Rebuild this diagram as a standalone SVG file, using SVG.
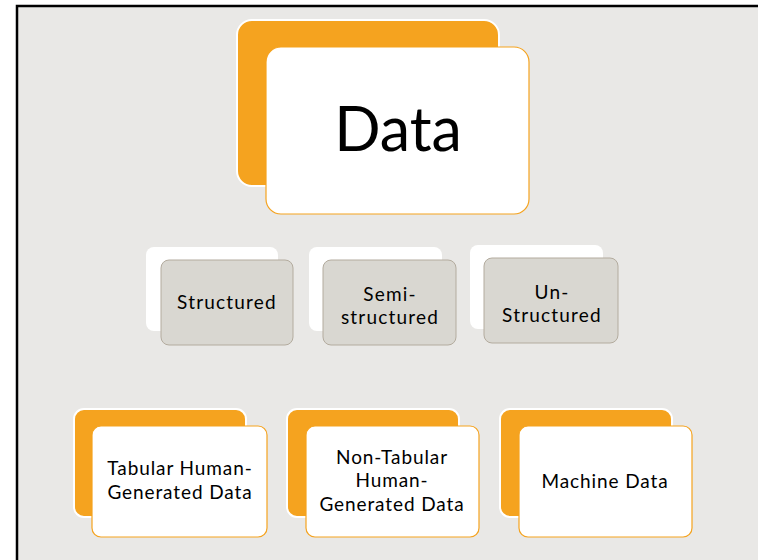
<svg xmlns="http://www.w3.org/2000/svg" width="758" height="560" viewBox="0 0 758 560">
<style>
.t{font-family:Lato,"Open Sans","Liberation Sans",sans-serif;fill:#000;text-anchor:middle}
.m{font-size:19px;letter-spacing:1.2px}
.b{font-size:19px;letter-spacing:0.9px}
.ob{fill:#f5a31f;stroke:#ffffff;stroke-width:2}
.wf{fill:#ffffff;stroke:#f5a31f;stroke-width:1.2}
.wb{fill:#ffffff;stroke:none}
.gf{fill:#d9d7d1;stroke:#b3ab9e;stroke-width:1}
</style>
<rect x="0" y="0" width="758" height="560" fill="#ffffff"/>
<rect x="17" y="6" width="800" height="600" fill="#e9e8e6" stroke="#000" stroke-width="2.5"/>
<g id="connectors"></g>
<g id="node-data">
<rect class="ob" x="237" y="20" width="262" height="166" rx="15"/>
<rect class="wf" x="266" y="47" width="263" height="167" rx="15"/>
<text class="t" x="398" y="151" font-size="61">Data</text>
</g>
<g id="node-structured">
<rect class="wb" x="146" y="247" width="132" height="84" rx="8"/>
<rect class="gf" x="161" y="260" width="132" height="85" rx="8"/>
<text class="t m" x="227" y="309">Structured</text>
</g>
<g id="node-semi">
<rect class="wb" x="309" y="247" width="133" height="84" rx="8"/>
<rect class="gf" x="323" y="260" width="133" height="85" rx="8"/>
<text class="t m" x="390" y="301">Semi-</text>
<text class="t m" x="390" y="324">structured</text>
</g>
<g id="node-unstructured">
<rect class="wb" x="470" y="245" width="133" height="84" rx="8"/>
<rect class="gf" x="484" y="258" width="134" height="85" rx="8"/>
<text class="t m" x="552" y="299">Un-</text>
<text class="t m" x="552" y="322">Structured</text>
</g>
<g id="node-tabular">
<rect class="ob" x="74" y="409" width="172" height="108" rx="10"/>
<rect class="wf" x="92" y="426" width="175" height="111" rx="9"/>
<text class="t b" x="180" y="475">Tabular Human-</text>
<text class="t b" x="180" y="499">Generated Data</text>
</g>
<g id="node-nontabular">
<rect class="ob" x="287" y="409" width="172" height="108" rx="10"/>
<rect class="wf" x="306" y="426" width="173" height="111" rx="9"/>
<text class="t b" x="392" y="464">Non-Tabular</text>
<text class="t b" x="392" y="487">Human-</text>
<text class="t b" x="392" y="511">Generated Data</text>
</g>
<g id="node-machine">
<rect class="ob" x="500" y="409" width="172" height="108" rx="10"/>
<rect class="wf" x="519" y="426" width="173" height="111" rx="9"/>
<text class="t b" x="605" y="488">Machine Data</text>
</g>
</svg>
